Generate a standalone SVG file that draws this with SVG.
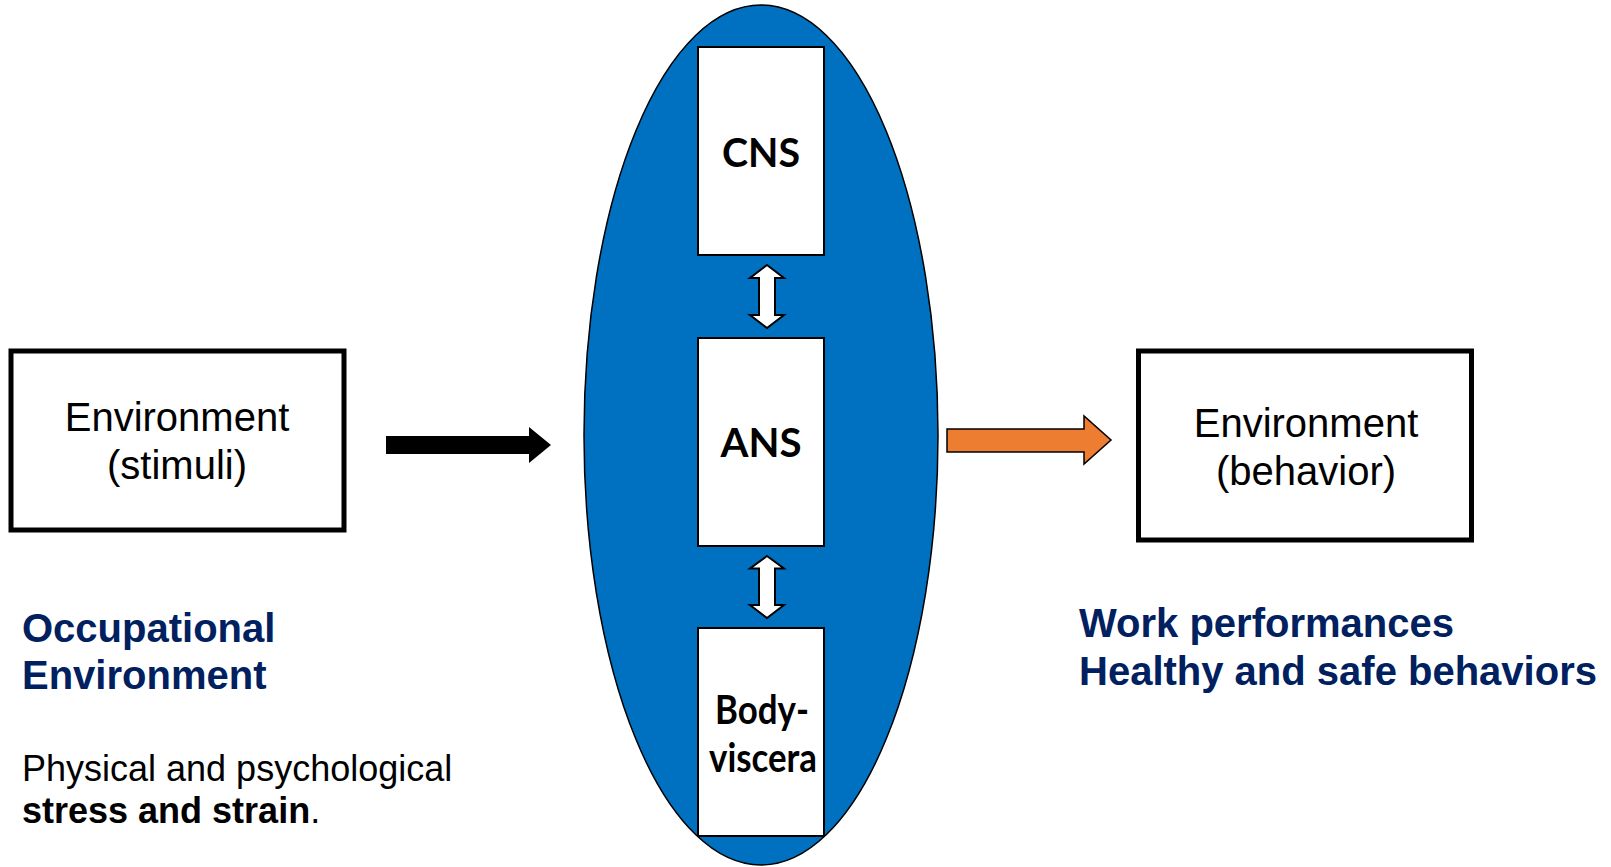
<svg xmlns="http://www.w3.org/2000/svg" width="1611" height="867" viewBox="0 0 1611 867">
<style>
.box{fill:#fff;stroke:#000;stroke-width:5}
.inner{fill:#fff;stroke:#000;stroke-width:2}
.t{font-family:"Liberation Sans",Arial,sans-serif;font-size:40px;fill:#000;text-anchor:middle}
.c{font-family:Lato,"Noto Sans",sans-serif;font-weight:bold;font-size:41px;fill:#000;text-anchor:middle}
.blue{font-family:"Liberation Sans",Arial,sans-serif;font-weight:bold;font-size:40px;fill:#002060}
.p{font-family:"Liberation Sans",Arial,sans-serif;font-size:36px;fill:#000}
.dbl{fill:#fff;stroke:#000;stroke-width:2;stroke-linejoin:miter}
</style>
<rect width="1611" height="867" fill="#fff"/>
<g id="nervous-system">
<ellipse cx="761" cy="435" rx="177" ry="430" fill="#0070C0" stroke="#000" stroke-width="1.5"/>
</g>
<g id="env-stimuli">
<rect class="box" x="11" y="351" width="333" height="179"/>
<text class="t" x="177" y="431">Environment</text>
<text class="t" x="177" y="479">(stimuli)</text>
</g>
<g id="env-behavior">
<rect class="box" x="1138.5" y="351" width="333" height="189"/>
<text class="t" x="1306" y="437">Environment</text>
<text class="t" x="1306" y="485">(behavior)</text>
</g>
<g id="cns">
<rect class="inner" x="698" y="47" width="126" height="208"/>
<text class="c" x="761" y="167" textLength="78" lengthAdjust="spacingAndGlyphs">CNS</text>
</g>
<g id="ans">
<rect class="inner" x="698" y="338" width="126" height="208"/>
<text class="c" x="761" y="457" textLength="81" lengthAdjust="spacingAndGlyphs">ANS</text>
</g>
<g id="body-viscera">
<rect class="inner" x="698" y="628" width="126" height="208"/>
<text class="c" x="762" y="724" textLength="94" lengthAdjust="spacingAndGlyphs">Body-</text>
<text class="c" x="763" y="772" textLength="108" lengthAdjust="spacingAndGlyphs">viscera</text>
</g>
<g id="connectors">
<polygon points="386,436 529,436 529,427 551,445 529,463 529,454 386,454" fill="#000"/>
<polygon points="947,429 1084,429 1084,416 1111,440 1084,464 1084,452 947,452" fill="#ED7D31" stroke="#000" stroke-width="1.5"/>
<polygon class="dbl" points="767,265 784,278 775,278 775,315 784,315 767,328 750,315 759,315 759,278 750,278"/>
<polygon class="dbl" points="767,556 784,568.5 775,568.5 775,605 784,605 767,618 750,605 759,605 759,568.5 750,568.5"/>
</g>
<g id="occupational-label">
<text class="blue" x="22" y="642">Occupational</text>
<text class="blue" x="22" y="689">Environment</text>
</g>
<g id="stress-label">
<text class="p" x="22" y="781">Physical and psychological</text>
<text class="p" x="22" y="823"><tspan font-weight="bold">stress and strain</tspan>.</text>
</g>
<g id="outcome-label">
<text class="blue" x="1079" y="637">Work performances</text>
<text class="blue" x="1079" y="685">Healthy and safe behaviors</text>
</g>
</svg>
